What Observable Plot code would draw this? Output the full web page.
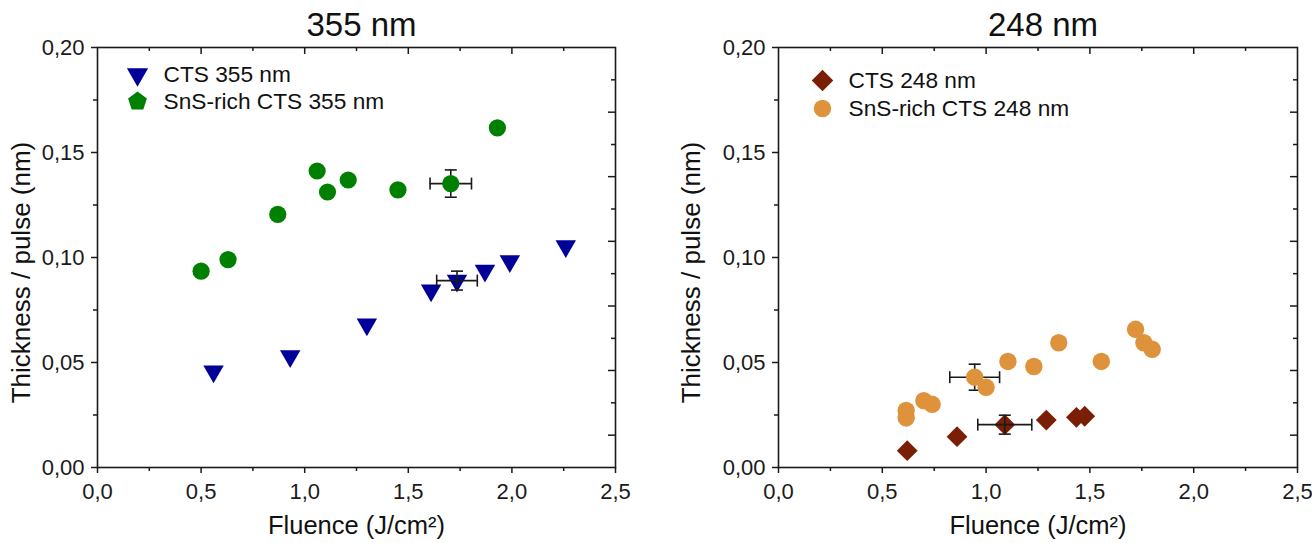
<!DOCTYPE html>
<html>
<head>
<meta charset="utf-8">
<script src="https://cdn.jsdelivr.net/npm/d3@7"></script>
<script src="https://cdn.jsdelivr.net/npm/@observablehq/plot@0.6"></script>
<style>
  html, body { margin: 0; padding: 0; background: #fff; }
  #wrap { display: flex; flex-direction: row; width: 1312px; height: 543px; }
  #wrap > div { width: 656px; height: 543px; }
  svg { overflow: visible; }
</style>
</head>
<body>
<div id="wrap"><div id="p355"></div><div id="p248"></div></div>
<script>
// ---------- data ----------
const titles = ["355 nm", "248 nm"];
const xLabel = "Fluence (J/cm²)";
const yLabel = "Thickness / pulse (nm)";

const xMajor = [0, 0.5, 1.0, 1.5, 2.0, 2.5];
const xMinor = [0.25, 0.75, 1.25, 1.75, 2.25];
const yMajor = [0, 0.05, 0.10, 0.15, 0.20];
const yMinor = [0.025, 0.075, 0.125, 0.175];
const topMajor = [0.5, 1.0, 1.5, 2.0];
const topMinor = [0.25, 0.75, 1.25, 1.75, 2.25];
const rightLong = [0.0154, 0.0462, 0.0769, 0.1077, 0.1385, 0.1692];
const rightShort = [0.0308, 0.0615, 0.0923, 0.1231, 0.1538, 0.1846];

// 355 nm
const cts355Fluence = [0.56, 0.93, 1.30, 1.61, 1.735, 1.87, 1.99, 2.26];
const cts355Rate    = [0.0458, 0.0530, 0.0681, 0.0843, 0.0890, 0.0937, 0.0983, 0.1054];
const sns355Fluence = [0.50, 0.63, 0.87, 1.06, 1.11, 1.21, 1.45, 1.705, 1.93];
const sns355Rate    = [0.0935, 0.0990, 0.1205, 0.1412, 0.1312, 0.1369, 0.1322, 0.1352, 0.1617];

// 248 nm
const cts248Fluence = [0.62, 0.86, 1.09, 1.29, 1.435, 1.475];
const cts248Rate    = [0.0080, 0.0147, 0.0204, 0.0226, 0.0239, 0.0244];
const sns248Fluence = [0.615, 0.615, 0.70, 0.74, 0.945, 1.00, 1.105, 1.23, 1.35, 1.555, 1.72, 1.76, 1.80];
const sns248Rate    = [0.0272, 0.0236, 0.0318, 0.0301, 0.0430, 0.0382, 0.0505, 0.0481, 0.0594, 0.0505, 0.0658, 0.0594, 0.0563];

// error bars: [x, y, xErr, yErr]
const err355Cts = [1.735, 0.0890, 0.098, 0.0045];
const err355Sns = [1.705, 0.1352, 0.100, 0.0065];
const err248Cts = [1.09, 0.0204, 0.130, 0.0045];
const err248Sns = [0.945, 0.0430, 0.120, 0.0062];

const legend355 = ["CTS 355 nm", "SnS-rich CTS 355 nm"];
const legend248 = ["CTS 248 nm", "SnS-rich CTS 248 nm"];

// ---------- helpers ----------
const pts = (xs, ys) => xs.map((x, i) => ({x, y: ys[i]}));
const errObj = e => [{x: e[0], y: e[1], dx: e[2], dy: e[3]}];

const vLine = {draw(ctx, size) { const h = Math.sqrt(size / Math.PI); ctx.moveTo(0, -h); ctx.lineTo(0, h); }};
const hLine = {draw(ctx, size) { const h = Math.sqrt(size / Math.PI); ctx.moveTo(-h, 0); ctx.lineTo(h, 0); }};
const pentagon = {draw(ctx, size) {
  const R = Math.sqrt(size / (2.5 * Math.sin(2 * Math.PI / 5)));
  for (let i = 0; i < 5; i++) {
    const a = -Math.PI / 2 + i * 2 * Math.PI / 5;
    if (i === 0) ctx.moveTo(R * Math.cos(a), R * Math.sin(a)); else ctx.lineTo(R * Math.cos(a), R * Math.sin(a));
  }
  ctx.closePath();
}};

const fx = d => d.toFixed(1).replace(".", ",");
const fy = d => d.toFixed(2).replace(".", ",");
const ink = "#1a1a1a";

function errMarks(e) {
  const d = errObj(e);
  return [
    Plot.ruleY(d, {x1: v => v.x - v.dx, x2: v => v.x + v.dx, y: "y", stroke: ink, strokeWidth: 1.6}),
    Plot.ruleX(d, {x: "x", y1: v => v.y - v.dy, y2: v => v.y + v.dy, stroke: ink, strokeWidth: 1.6}),
    Plot.dot(d, {x: v => v.x - v.dx, y: "y", symbol: vLine, r: 6, stroke: ink, strokeWidth: 1.6, fill: "none"}),
    Plot.dot(d, {x: v => v.x + v.dx, y: "y", symbol: vLine, r: 6, stroke: ink, strokeWidth: 1.6, fill: "none"}),
    Plot.dot(d, {x: "x", y: v => v.y - v.dy, symbol: hLine, r: 6, stroke: ink, strokeWidth: 1.6, fill: "none"}),
    Plot.dot(d, {x: "x", y: v => v.y + v.dy, symbol: hLine, r: 6, stroke: ink, strokeWidth: 1.6, fill: "none"})
  ];
}

function panel(cfg) {
  const frameW = 656 - cfg.ml - cfg.mr;
  const frameH = 543 - 47 - 76;
  return Plot.plot({
    width: 656, height: 543,
    marginLeft: cfg.ml, marginRight: cfg.mr, marginTop: 47, marginBottom: 76,
    x: {domain: [0, 2.5]},
    y: {domain: [0, 0.2]},
    style: {fontFamily: "'Liberation Sans', Arial, sans-serif", color: ink, background: "#fff", overflow: "visible"},
    marks: [
      Plot.axisX(xMajor, {tickSize: 6, tickPadding: 10, tickFormat: fx, fontSize: 22, label: null, strokeWidth: 1.5}),
      Plot.axisX(xMinor, {tickSize: 4, tickFormat: () => "", label: null, strokeWidth: 1.5}),
      Plot.axisY(yMajor, {tickSize: 6, tickPadding: 7, tickFormat: fy, fontSize: 22, label: null, strokeWidth: 1.5}),
      Plot.axisY(yMinor, {tickSize: 4, tickFormat: () => "", label: null, strokeWidth: 1.5}),
      Plot.tickY(rightLong, {y: d => d, insetLeft: frameW - 7, stroke: ink, strokeWidth: 1.5}),
      Plot.tickY(rightShort, {y: d => d, insetLeft: frameW - 4, stroke: ink, strokeWidth: 1.5}),
      Plot.tickX(topMajor, {x: d => d, insetBottom: frameH - 7, stroke: ink, strokeWidth: 1.5}),
      Plot.tickX(topMinor, {x: d => d, insetBottom: frameH - 4, stroke: ink, strokeWidth: 1.5}),
      Plot.frame({stroke: ink, strokeWidth: 1.6}),
      // SnS-rich error bar below circles
      ...errMarks(cfg.errSns),
      Plot.dot(pts(cfg.snsX, cfg.snsY), {x: "x", y: "y", symbol: "circle", r: cfg.snsR, fill: cfg.snsColor, stroke: "none"}),
      Plot.dot(pts(cfg.ctsX, cfg.ctsY), {x: "x", y: "y", symbol: cfg.ctsSymbol, rotate: cfg.ctsRotate, r: cfg.ctsR, fill: cfg.ctsColor, stroke: "none"}),
      ...errMarks(cfg.errCts),
      // legend
      Plot.dot([0], {frameAnchor: "top-left", dx: cfg.legSx, dy: cfg.legY1, symbol: cfg.ctsSymbol, rotate: cfg.ctsRotate, r: cfg.ctsR + 0.3, fill: cfg.ctsColor, stroke: "none"}),
      Plot.dot([0], {frameAnchor: "top-left", dx: cfg.legSx, dy: cfg.legY2, symbol: cfg.legSnsSymbol, r: cfg.legSnsR, fill: cfg.snsColor, stroke: "none"}),
      Plot.text([cfg.legend[0]], {frameAnchor: "top-left", dx: cfg.legTx, dy: cfg.legY1, textAnchor: "start", lineAnchor: "middle", fontSize: 22.7, fill: "#111"}),
      Plot.text([cfg.legend[1]], {frameAnchor: "top-left", dx: cfg.legTx, dy: cfg.legY2, textAnchor: "start", lineAnchor: "middle", fontSize: 22.7, fill: "#111"}),
      // titles
      Plot.text([cfg.title], {frameAnchor: "top", dx: 5, dy: -22, textAnchor: "middle", lineAnchor: "middle", fontSize: 33, fill: "#111"}),
      Plot.text([xLabel], {frameAnchor: "bottom", dy: 58, textAnchor: "middle", lineAnchor: "middle", fontSize: 25.5, fill: "#111"}),
      Plot.text([yLabel], {frameAnchor: "left", dx: cfg.ylDx, dy: 15, rotate: -90, textAnchor: "middle", lineAnchor: "middle", fontSize: 26, fill: "#111"})
    ]
  });
}

document.getElementById("p355").append(panel({
  ml: 97, mr: 41, title: titles[0],
  ctsX: cts355Fluence, ctsY: cts355Rate, ctsSymbol: "triangle", ctsRotate: 180, ctsR: 7.6, ctsColor: "#000099",
  snsX: sns355Fluence, snsY: sns355Rate, snsR: 8.6, snsColor: "#008000",
  errCts: err355Cts, errSns: err355Sns,
  legend: legend355, legSx: 40, legTx: 66, legY1: 27, legY2: 54,
  legSnsSymbol: pentagon, legSnsR: 8.6, ylDx: -76
}));

document.getElementById("p248").append(panel({
  ml: 122, mr: 15, title: titles[1],
  ctsX: cts248Fluence, ctsY: cts248Rate, ctsSymbol: "square", ctsRotate: 45, ctsR: 8.3, ctsColor: "#7a1f05",
  snsX: sns248Fluence, snsY: sns248Rate, snsR: 8.7, snsColor: "#de923c",
  errCts: err248Cts, errSns: err248Sns,
  legend: legend248, legSx: 44, legTx: 70, legY1: 33, legY2: 61,
  legSnsSymbol: "circle", legSnsR: 8.7, ylDx: -87
}));
</script>
</body>
</html>
